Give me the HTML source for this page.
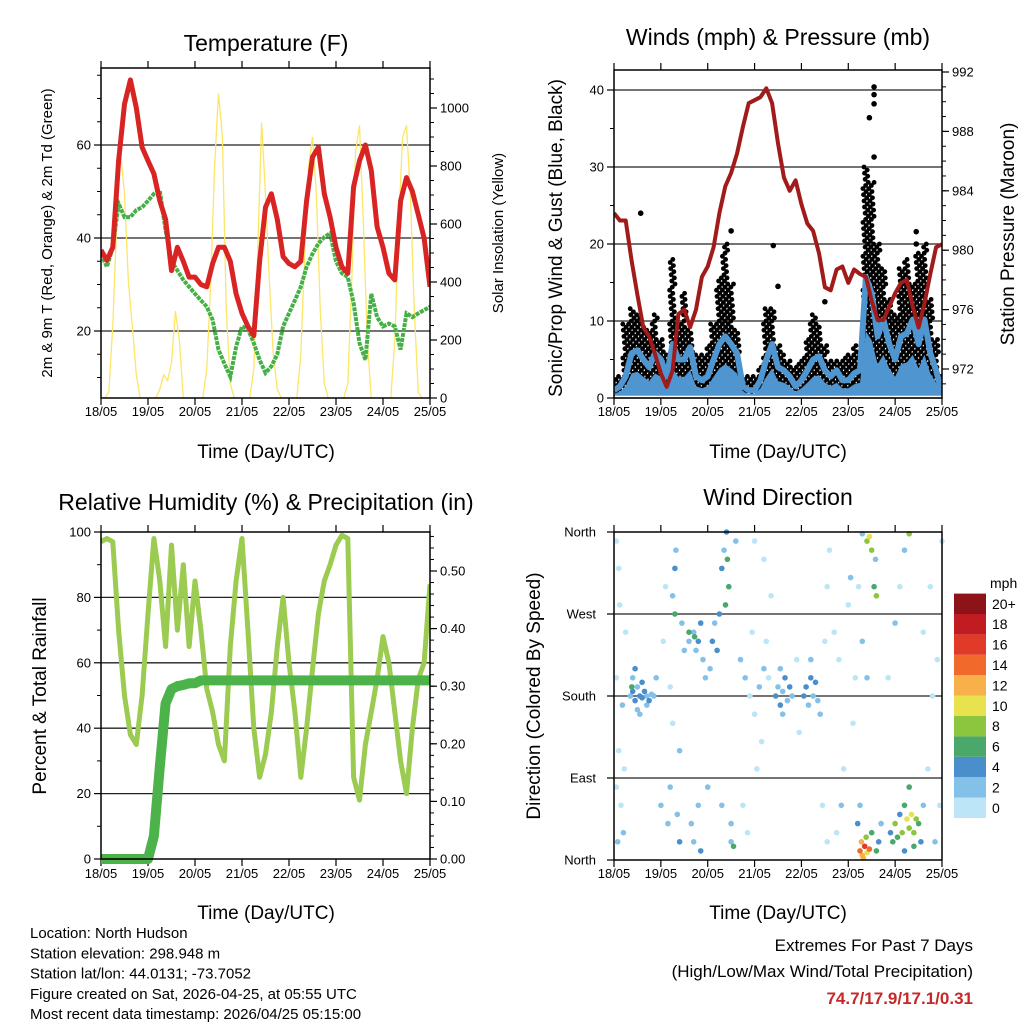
<!DOCTYPE html>
<html><head><meta charset="utf-8"><style>
body{margin:0;background:#fff;}
svg text{font-family:"Liberation Sans",sans-serif;}
</style></head><body>
<svg id="c" width="1024" height="1024" xmlns="http://www.w3.org/2000/svg"></svg>
<script>
// ---------- data (3-hourly samples unless noted) ----------
const dayLabels=["18/05","19/05","20/05","21/05","22/05","23/05","24/05","25/05"];
const tempRed=[37.4,35.2,38,56.6,68.8,74,68,59.5,56.6,53.8,48,44,33,38,35,31.6,31.6,30,29.5,34.5,38,38,35,28,23.8,21,19,35,46.6,49.5,44,36,34.5,33.8,35,48,57.4,59.5,49.5,44.5,38,33.8,32.4,51,56.6,60,54.5,42.4,38,32.4,31,48,53,50,45,40,29.5];
const dewGreen=[36.6,33.8,38,47.4,44.5,44.5,46,46.6,48,49.5,50.2,41.6,35,33,31,29.5,28,26.6,25.2,22.4,16,13,10.2,16.6,21,20.4,17.4,13.8,11,12.4,15,21,23.8,26.6,29.5,33.8,36.6,38.8,40.2,41,35,32.4,31.6,26,17.4,13.8,28,23,21,21.6,21,16,23.8,23,23.8,24.5,25.2];
// solar, 2-hourly
const solar=[0,0,20,250,600,850,700,400,250,80,0,0,
0,0,0,30,80,60,120,300,200,0,0,0,
0,0,0,100,400,800,1050,900,300,50,0,0,
0,0,0,100,500,950,700,400,150,30,0,0,
0,0,0,150,500,800,900,700,300,50,0,0,
0,0,0,50,400,850,940,600,200,0,0,0,
0,0,0,200,600,900,940,700,300,20,0,0,0];
const pressure=[982.5,982,982,979.3,977,974.8,974.2,973,971.7,970.8,971.9,975.7,976,974.8,976,978.2,978.9,980.2,982.5,984.3,985.2,986.5,988.3,989.9,990.1,990.3,990.9,989.9,987.2,984.9,984,984.7,983.1,981.8,981.3,979.8,977.5,977.3,978.7,978.9,977.8,978.7,978.4,978.2,976.6,975.3,975.3,976.2,977.1,977.8,978,976.2,974.8,976.4,978.4,980.2,980.4];
const sonic=[1,1.5,2.8,5.8,6.2,5,4,5.8,5,2.8,7,5,5,6.6,2.8,2.3,2.8,5,7,8,7,5.8,1.5,1,1,2.3,5,7,4,3.6,2.8,1.5,2.3,3.6,5,5.4,3.6,2.8,3.6,2.3,2.3,3.2,3.6,15.7,13.6,8,10.2,7,5,8,8.4,10.2,7,10.2,5.8,3.6,0.6];
const gust=[2.5,3,10,12,11,10,9,11,8,6,18,10,14,9,6,6,7,10,16,20,15,9,3,3,3,4,12,12,7,6,5,4,5,8,11,10,7,5,5,5,6,7,6,30,28,20,17,13,11,17,18,15,19,20,13,8,3];
const gustOutT=[0.57,2.5,3.4,3.5,4.5,5.45,5.55,5.55,5.55,5.55,6.45,6.45];
const gustOutV=[24,21.7,19.8,14.5,12.5,36.4,40.4,39.4,38.2,31.3,21.6,20];
const rh=[97,98,97,70,50,38,35,50,75,98,85,65,96,70,90,65,85,70,52,45,35,30,65,85,98,70,40,25,32,45,65,80,60,45,25,40,58,75,85,90,96,99,98,25,18,35,45,55,68,60,45,30,20,40,55,60,84];
const precip=[0,0,0,0,0,0,0,0,0,0.04,0.16,0.27,0.295,0.30,0.302,0.305,0.305,0.31,0.31,0.31,0.31,0.31,0.31,0.31,0.31,0.31,0.31,0.31,0.31,0.31,0.31,0.31,0.31,0.31,0.31,0.31,0.31,0.31,0.31,0.31,0.31,0.31,0.31,0.31,0.31,0.31,0.31,0.31,0.31,0.31,0.31,0.31,0.31,0.31,0.31,0.31,0.31];
const dirT=[0.05,0.1,0.05,0.1,0.15,0.2,0.05,0.25,0.12,0.18,0.08,0.22,0.35,0.4,0.45,0.5,0.55,0.6,0.65,0.7,0.75,0.8,0.4,0.5,0.6,0.7,0.45,0.55,0.38,0.85,0.9,
1.0,1.05,1.1,1.15,1.2,1.25,1.3,1.32,1.3,1.35,1.4,1.4,1.45,1.5,1.25,1.2,1.6,1.7,1.75,1.8,1.85,1.9,1.95,1.65,1.7,1.8,1.85,1.6,1.72,2.0,
2.05,2.1,2.15,2.2,2.25,2.3,2.35,2.4,2.45,2.42,2.38,2.5,2.55,2.5,2.3,2.6,2.7,2.8,2.9,3.0,3.1,3.2,3.3,2.75,2.85,3.05,3.15,3.25,3.35,3.2,2.95,3.0,
3.45,3.5,3.55,3.6,3.65,3.7,3.75,3.55,3.6,3.8,3.9,3.95,4.05,4.1,4.15,4.2,4.25,4.3,4.35,4.2,4.4,4.5,4.55,4.6,4.45,4.55,4.7,4.8,4.9,5.0,5.05,5.1,4.75,4.85,5.15,
5.25,5.3,5.35,5.4,5.28,5.45,5.32,5.38,5.5,5.2,5.25,5.3,5.4,5.45,5.5,5.55,5.6,5.58,5.65,5.6,5.7,5.22,5.3,5.4,
5.9,5.95,6.0,6.05,6.1,6.15,6.2,6.25,6.3,6.35,6.4,6.45,6.5,6.55,6.6,6.3,6.2,6.4,5.85,6.0,6.1,6.2,6.3,6.6,6.7,6.8,6.9,6.95,6.75,6.85,7.0];
const dirDeg=[350,320,200,120,60,30,80,250,280,170,20,100,180,185,175,190,180,178,185,180,175,182,200,165,195,170,210,160,190,180,200,
60,240,300,40,80,290,320,340,270,50,20,120,260,230,150,190,240,250,230,240,260,220,200,40,20,60,10,250,245,80,
210,240,260,230,270,320,340,360,300,330,280,20,15,40,60,350,220,200,180,160,190,210,200,60,30,100,130,240,290,330,250,350,
180,190,170,185,200,175,190,210,160,180,220,140,180,190,170,200,180,195,175,220,160,240,300,340,60,20,250,220,100,280,310,150,30,60,200,
10,5,15,8,20,12,2,25,30,40,60,358,350,355,340,300,290,330,20,10,40,300,240,200,
30,20,40,25,50,30,60,45,35,50,30,45,40,20,60,80,10,15,200,260,300,340,358,250,100,180,220,60,300,20,350];
const dirSpd=[1,1,1,1,1,2,1,1,1,2,2,1,3,4,4,3,5,4,4,3,4,3,3,3,4,2,4,3,6,2,2,
2,1,1,3,2,3,4,3,6,3,4,2,3,2,1,1,2,3,3,4,4,3,2,2,3,2,4,6,6,2,
3,4,3,4,5,4,3,4,6,7,6,3,6,2,3,2,2,2,1,1,2,3,1,1,1,1,1,1,1,1,1,1,
4,3,4,3,4,3,4,2,2,2,1,1,4,4,3,4,3,4,3,3,2,1,1,1,1,1,1,1,1,1,2,1,1,2,1,
14,12,16,10,13,14,12,8,6,4,2,2,8,10,8,6,8,3,4,6,3,1,2,2,
4,6,8,6,4,8,6,10,8,10,9,8,6,4,3,6,4,6,1,2,1,2,8,1,1,1,1,1,1,2,1];
const cbLabels=["0","2","4","6","8","10","12","14","16","18","20+"];
const cbColors=["#bde5f8","#84c1e8","#4a8fcb","#4aa86a","#8cc63f","#e8e24e","#f8b04b","#f26a2b","#e03a28","#c01c22","#8c1418"];

// ---------- helpers ----------
const NS="http://www.w3.org/2000/svg";
const svg=document.getElementById('c');
function el(tag,attrs,parent){const e=document.createElementNS(NS,tag);for(const k in attrs)e.setAttribute(k,attrs[k]);(parent||svg).appendChild(e);return e;}
function txt(s,x,y,size,anchor,rot,parent){const a={x:x,y:y,'font-size':size,'text-anchor':anchor||'middle',fill:'#000'};if(rot)a.transform=`rotate(${rot} ${x} ${y})`;const t=el('text',a,parent);t.textContent=s;return t;}
function lin(d0,d1,r0,r1){return v=>r0+(v-d0)/(d1-d0)*(r1-r0);}
function pts(arr,step,sx,sy){return arr.map((v,i)=>sx(i*step).toFixed(1)+','+sy(v).toFixed(1)).join(' ');}

function frame(g,x0,y0,x1,y1,name,labY){
  const sx=lin(0,7,x0,x1);
  for(let d=0;d<=7;d++){
    const x=sx(d);
    el('line',{x1:x,y1:y1,x2:x,y2:y1+7,stroke:'#000','stroke-width':1.2},g);
    el('line',{x1:x,y1:y0,x2:x,y2:y0-7,stroke:'#000','stroke-width':1.2},g);
    const t=txt(dayLabels[d],x,labY,13,'middle',0,g);
    
    
  }
  return sx;
}
function yAxis(g,x0,x1,sy,vals,labels,minor,side,grid){
  const xa=side==='l'?x0:x1, dir=side==='l'?-1:1;
  vals.forEach((v,i)=>{const y=sy(v);
    el('line',{x1:xa,y1:y,x2:xa+dir*7,y2:y,stroke:'#000','stroke-width':1.2},g);
    if(grid)el('line',{x1:x0,y1:y,x2:x1,y2:y,stroke:'#222','stroke-width':1.3},g);
    const t=txt(labels[i],xa+dir*10,y+4.5,13,side==='l'?'end':'start',0,g);
    
    
  });
  minor.forEach(v=>{const y=sy(v);el('line',{x1:xa,y1:y,x2:xa+dir*4,y2:y,stroke:'#000','stroke-width':1},g);});
}
function range(a,b,s){const r=[];for(let v=a;v<=b+1e-9;v+=s)r.push(+v.toFixed(4));return r;}
function box(g,x0,y0,x1,y1){el('rect',{x:x0,y:y0,width:x1-x0,height:y1-y0,fill:'none',stroke:'#000','stroke-width':1.5},g);}

// ---------- Panel 1: temperature ----------
(function(){
  const g=el('g',{});
  const x0=101,y0=68,x1=430,y1=398;
  const sx=frame(g,x0,y0,x1,y1,'t',416);
  const sy=lin(20,60,331,145), sr=lin(0,1000,398,108);
  yAxis(g,x0,x1,sy,[20,40,60],["20","40","60"],range(10,75,5),'l',true);
  yAxis(g,x0,x1,sr,[0,200,400,600,800,1000],["0","200","400","600","800","1000"],range(50,1100,50),'r',false);
  const cp=el('clipPath',{id:'cp1'},g);el('rect',{x:x0,y:y0,width:x1-x0,height:y1-y0},cp);
  const s=el('polyline',{points:pts(solar,1/12,sx,sr),fill:'none',stroke:'#fde567','stroke-width':1.3,'clip-path':'url(#cp1)'},g);
  
  const dg=el('polyline',{points:pts(dewGreen,0.125,sx,sy),fill:'none',stroke:'#46b046','stroke-width':4,'stroke-dasharray':'4 1','clip-path':'url(#cp1)'},g);
  
  const r=el('polyline',{points:pts(tempRed,0.125,sx,sy),fill:'none',stroke:'#d92424','stroke-width':5,'stroke-linejoin':'round','clip-path':'url(#cp1)'},g);
  
  box(g,x0,y0,x1,y1);
  let t=txt("Temperature (F)",266,51,23,'middle',0,g);
  t=txt("2m & 9m T (Red, Orange) & 2m Td (Green)",52,233,15,'middle',-90,g);
  t=txt("Solar Insolation (Yellow)",503,233,15,'middle',-90,g);
  t=txt("Time (Day/UTC)",266,458,19,'middle',0,g);
})();

// ---------- Panel 2: winds & pressure ----------
(function(){
  const g=el('g',{});
  const x0=614,y0=70,x1=942,y1=398;
  const sx=frame(g,x0,y0,x1,y1,'w',416);
  const sy=lin(0,40,398,90), sp=lin(972,992,369,72);
  yAxis(g,x0,x1,sy,[0,10,20,30,40],["0","10","20","30","40"],range(5,35,10),'l',true);
  yAxis(g,x0,x1,sp,[972,976,980,984,988,992],["972","976","980","984","988","992"],range(971,991,1),'r',false);
  const cp=el('clipPath',{id:'cp2'},g);el('rect',{x:x0,y:y0,width:x1-x0,height:y1-y0},cp);
  const dots=el('g',{'clip-path':'url(#cp2)'},g);
  
  gust.forEach((gv,i)=>{
    const base=sx(i*0.125), w=sx(0.125)-sx(0);
    let k=0;
    for(let v=0.8;v<=gv;v+=0.4){
      const x=base+((k*5)%11)/11*w-w/2;k++;
      el('circle',{cx:x.toFixed(1),cy:sy(v).toFixed(1),r:2.4,fill:'#000'},dots);
    }
  });
  gustOutT.forEach((tv,i)=>{el('circle',{cx:sx(tv),cy:sy(gustOutV[i]),r:2.8,fill:'#000'},dots);});
  const sl=el('polyline',{points:pts(sonic,0.125,sx,sy),fill:'none',stroke:'#4f95d0','stroke-width':6,'stroke-linejoin':'round','clip-path':'url(#cp2)'},g);
  
  const area='M'+sx(0)+','+sy(0.3)+' L'+sonic.map((v,i)=>sx(i*0.125).toFixed(1)+','+sy(v*0.55).toFixed(1)).join(' L')+' L'+sx(7)+','+sy(0.3)+'Z';
  const b=el('path',{d:area,fill:'#4f95d0','clip-path':'url(#cp2)'},g);
  
  const p=el('polyline',{points:pts(pressure,0.125,sx,sp),fill:'none',stroke:'#a11b1b','stroke-width':4,'stroke-linejoin':'round','clip-path':'url(#cp2)'},g);
  
  box(g,x0,y0,x1,y1);
  let t=txt("Winds (mph) & Pressure (mb)",778,45,23,'middle',0,g);
  t=txt("Sonic/Prop Wind & Gust (Blue, Black)",562,238,19,'middle',-90,g);
  t=txt("Station Pressure (Maroon)",1014,234,19,'middle',-90,g);
  t=txt("Time (Day/UTC)",778,458,19,'middle',0,g);
})();

// ---------- Panel 3: RH & precip ----------
(function(){
  const g=el('g',{});
  const x0=101,y0=532,x1=430,y1=859;
  const sx=frame(g,x0,y0,x1,y1,'h',878);
  const sy=lin(0,100,859,532), sr=lin(0,0.5,859,571);
  yAxis(g,x0,x1,sy,[0,20,40,60,80,100],["0","20","40","60","80","100"],range(10,90,20),'l',false);
  [20,40,60,80].forEach(v=>el('line',{x1:x0,y1:sy(v),x2:x1,y2:sy(v),stroke:'#222','stroke-width':1.3},g));
  yAxis(g,x0,x1,sr,[0,0.1,0.2,0.3,0.4,0.5],["0.00","0.10","0.20","0.30","0.40","0.50"],range(0.02,0.56,0.02),'r',false);
  const cp=el('clipPath',{id:'cp3'},g);el('rect',{x:x0,y:y0,width:x1-x0,height:y1-y0},cp);
  const r=el('polyline',{points:pts(rh,0.125,sx,sy),fill:'none',stroke:'#9bcb50','stroke-width':5,'stroke-linejoin':'round','clip-path':'url(#cp3)'},g);
  
  const p=el('polyline',{points:pts(precip,0.125,sx,sr),fill:'none',stroke:'#4cb34a','stroke-width':10,'stroke-linejoin':'round'},g);
  
  box(g,x0,y0,x1,y1);
  let t=txt("Relative Humidity (%) & Precipitation (in)",266,510,23,'middle',0,g);
  t=txt("Percent & Total Rainfall",46,696,19,'middle',-90,g);
  t=txt("Time (Day/UTC)",266,919,19,'middle',0,g);
})();

// ---------- Panel 4: wind direction ----------
(function(){
  const g=el('g',{});
  const x0=614,y0=532,x1=942,y1=860;
  const sx=frame(g,x0,y0,x1,y1,'d',878);
  const sy=lin(0,360,860,532);
  const names=["North","East","South","West","North"];
  [0,90,180,270,360].forEach((v,i)=>{const y=sy(v);
    el('line',{x1:x0,y1:y,x2:x0-7,y2:y,stroke:'#000','stroke-width':1.2},g);
    if(i>0&&i<4)el('line',{x1:x0,y1:y,x2:x1,y2:y,stroke:'#222','stroke-width':1.3},g);
    const t=txt(names[i],596,y+4.5,13,'end',0,g);
  });
  const cp=el('clipPath',{id:'cp4'},g);el('rect',{x:x0-3,y:y0-3,width:x1-x0+6,height:y1-y0+6},cp);
  const dg=el('g',{'clip-path':'url(#cp4)'},g);
  const order=dirSpd.map((s,i)=>i).sort((a,b)=>dirSpd[a]-dirSpd[b]);
  order.forEach(i=>{const ci=Math.min(10,Math.floor(dirSpd[i]/2));
    const c=el('circle',{cx:sx(dirT[i]).toFixed(1),cy:sy(dirDeg[i]).toFixed(1),r:2.8,fill:cbColors[ci]},dg);
    
    
  });
  box(g,x0,y0,x1,y1);
  let t=txt("Wind Direction",778,505,23,'middle',0,g);
  t=txt("Direction (Colored By Speed)",540,696,19,'middle',-90,g);
  t=txt("Time (Day/UTC)",778,919,19,'middle',0,g);
  const cb=el('g',{},g);
  const h=20.4;
  cbColors.forEach((c,i)=>{const y=818-(i+1)*h;
    el('rect',{x:954,y:y,width:32,height:h,fill:c},cb);
    txt(cbLabels[i],992,y+h/2+5,14,'start',0,cb);
  });
  t=txt("mph",990,588,14,'start',0,cb);
})();

// ---------- footer text ----------
(function(){
  const lines=["Location: North Hudson","Station elevation: 298.948 m","Station lat/lon: 44.0131; -73.7052","Figure created on Sat, 2026-04-25, at 05:55 UTC","Most recent data timestamp: 2026/04/25 05:15:00"];
  lines.forEach((s,i)=>{const t=txt(s,30,938+i*20.3,15,'start');});
  let t=txt("Extremes For Past 7 Days",973,951,17,'end');
  t=txt("(High/Low/Max Wind/Total Precipitation)",973,977,17,'end');
  t=txt("74.7/17.9/17.1/0.31",973,1004,17,'end');t.setAttribute('fill','#c62828');t.setAttribute('font-weight','bold');
})();
</script>
</body></html>
